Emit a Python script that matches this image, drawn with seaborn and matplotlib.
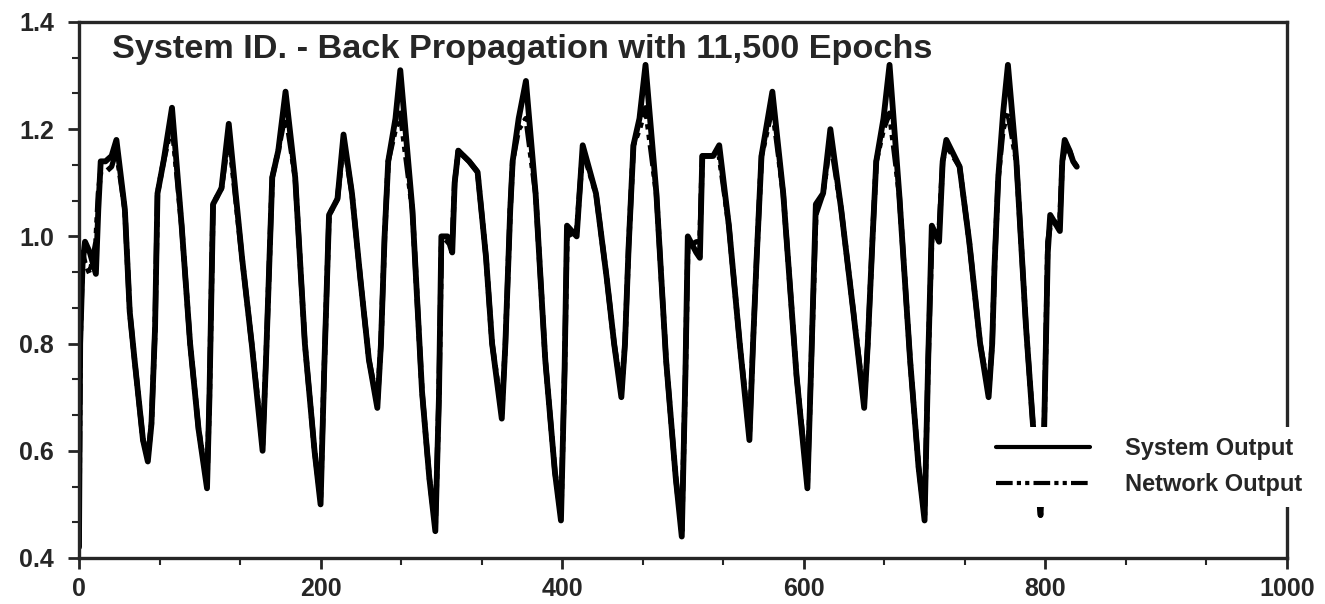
import numpy as np
import pandas as pd
import matplotlib
matplotlib.use('Agg')
import matplotlib.pyplot as plt
from matplotlib.ticker import MultipleLocator, FormatStrFormatter
import seaborn as sns

# values (step index vs output)
step = [0, 1, 3, 5, 9, 14, 16, 18, 22, 27, 31, 38, 42, 46, 53, 57, 60, 63, 65, 70,
        77, 85, 92, 99, 106, 108, 111, 118, 124, 135, 143, 152, 155, 160, 165, 171, 179, 187, 195, 200,
        203, 207, 214, 219, 226, 233, 240, 247, 250, 253, 256, 262, 266, 276, 284, 290, 295, 298, 300, 305,
        309, 311, 314, 323, 330, 337, 342, 350, 353, 357, 359, 364, 370, 378, 386, 394, 399, 402, 404, 412,
        417, 428, 437, 443, 449, 452, 455, 459, 464, 469, 478, 486, 494, 499, 502, 504, 511, 514, 516, 525,
        530, 538, 547, 555, 558, 561, 565, 574, 583, 594, 603, 606, 610, 616, 622, 631, 641, 650, 653, 657,
        660, 666, 671, 679, 688, 695, 700, 703, 706, 712, 715, 718, 729, 737, 746, 753, 756, 758, 761, 765,
        769, 776, 784, 790, 796, 799, 802, 804, 812, 814, 816, 820, 823, 826]

system_out = [0.42, 0.80, 0.95, 0.99, 0.97, 0.93, 1.05, 1.14, 1.14, 1.15, 1.18, 1.05, 0.86, 0.77, 0.62, 0.58, 0.65, 0.83, 1.08, 1.14,
              1.24, 1.02, 0.80, 0.64, 0.53, 0.70, 1.06, 1.09, 1.21, 0.96, 0.80, 0.60, 0.78, 1.11, 1.16, 1.27, 1.11, 0.80, 0.60, 0.50,
              0.75, 1.04, 1.07, 1.19, 1.08, 0.92, 0.77, 0.68, 0.80, 1.00, 1.14, 1.22, 1.31, 1.05, 0.71, 0.55, 0.45, 0.70, 1.00, 1.00,
              0.97, 1.10, 1.16, 1.14, 1.12, 0.96, 0.80, 0.66, 0.80, 1.05, 1.14, 1.22, 1.29, 1.08, 0.77, 0.56, 0.47, 0.75, 1.02, 1.00,
              1.17, 1.08, 0.92, 0.80, 0.70, 0.80, 0.98, 1.17, 1.22, 1.32, 1.08, 0.77, 0.55, 0.44, 0.74, 1.00, 0.97, 0.96, 1.15, 1.15,
              1.17, 1.02, 0.80, 0.62, 0.80, 0.96, 1.15, 1.27, 1.08, 0.74, 0.53, 0.75, 1.06, 1.08, 1.20, 1.05, 0.86, 0.68, 0.80, 1.00,
              1.14, 1.22, 1.32, 1.08, 0.77, 0.57, 0.47, 0.77, 1.02, 0.99, 1.14, 1.18, 1.13, 0.99, 0.80, 0.70, 0.80, 0.95, 1.11, 1.23,
              1.32, 1.14, 0.83, 0.64, 0.48, 0.64, 0.97, 1.04, 1.01, 1.14, 1.18, 1.16, 1.14, 1.13]

network_out = [0.42, 0.80, 0.97, 0.95, 0.93, 0.99, 1.08, 1.12, 1.12, 1.13, 1.16, 1.05, 0.86, 0.77, 0.62, 0.59, 0.65, 0.83, 1.08, 1.14,
               1.21, 1.02, 0.80, 0.64, 0.54, 0.70, 1.06, 1.09, 1.19, 0.96, 0.80, 0.61, 0.78, 1.11, 1.16, 1.23, 1.11, 0.80, 0.60, 0.51,
               0.75, 1.04, 1.07, 1.18, 1.08, 0.92, 0.77, 0.69, 0.80, 1.00, 1.14, 1.20, 1.23, 1.05, 0.71, 0.55, 0.46, 0.70, 0.98, 0.99,
               0.99, 1.10, 1.16, 1.14, 1.12, 0.96, 0.80, 0.67, 0.80, 1.05, 1.14, 1.20, 1.22, 1.08, 0.77, 0.56, 0.48, 0.75, 1.00, 1.01,
               1.16, 1.08, 0.92, 0.80, 0.71, 0.80, 0.98, 1.17, 1.20, 1.24, 1.08, 0.77, 0.55, 0.45, 0.74, 0.98, 0.99, 0.99, 1.15, 1.15,
               1.15, 1.02, 0.80, 0.63, 0.80, 0.96, 1.15, 1.24, 1.08, 0.74, 0.54, 0.75, 1.04, 1.08, 1.18, 1.05, 0.86, 0.69, 0.80, 1.00,
               1.14, 1.20, 1.23, 1.08, 0.77, 0.57, 0.48, 0.77, 1.00, 1.01, 1.14, 1.17, 1.13, 0.99, 0.80, 0.71, 0.80, 0.95, 1.11, 1.20,
               1.23, 1.14, 0.83, 0.64, 0.48, 0.64, 0.99, 1.02, 1.03, 1.14, 1.16, 1.16, 1.14, 1.13]

title = 'System ID. - Back Propagation with 11,500 Epochs'
y_ticks = [0.4, 0.6, 0.8, 1.0, 1.2, 1.4]
x_ticks = [0, 200, 400, 600, 800, 1000]

df = pd.DataFrame({'step': step, 'System Output': system_out, 'Network Output': network_out})

sns.set_style('ticks')
plt.rcParams['font.family'] = ['Liberation Sans', 'DejaVu Sans']
plt.rcParams['font.weight'] = 'bold'

fig = plt.figure(figsize=(13.25, 6.04), dpi=100)
ax = fig.add_axes([0.0596, 0.0762, 0.9117, 0.8874])

sns.lineplot(data=df, x='step', y='System Output', ax=ax, color='black', lw=4.2,
             sort=False, estimator=None, label='System Output')
sns.lineplot(data=df, x='step', y='Network Output', ax=ax, color='black', lw=3.8,
             linestyle=(0, (4, 1.0, 1, 1.0, 1, 1.0)), sort=False, estimator=None, label='Network Output')

ax.set_xlim(0, 1000)
ax.set_ylim(0.4, 1.4)
ax.set_xticks(x_ticks)
ax.set_yticks(y_ticks)
ax.xaxis.set_minor_locator(MultipleLocator(200 / 3))
ax.yaxis.set_minor_locator(MultipleLocator(0.2 / 3))
ax.yaxis.set_major_formatter(FormatStrFormatter('%.1f'))
ax.tick_params(which='major', direction='out', length=8, width=2, labelsize=18)
ax.tick_params(which='minor', direction='out', length=5, width=1.5)
ax.tick_params(axis='x', pad=6)
ax.tick_params(axis='y', pad=10)
for s in ax.spines.values():
    s.set_linewidth(2.4)
    s.set_visible(True)
ax.set_xlabel('')
ax.set_ylabel('')

ax.text(0.027, 0.978, title, transform=ax.transAxes, va='top', ha='left',
        fontsize=24.7, fontweight='bold')

leg = ax.legend(loc='upper left', bbox_to_anchor=(0.75, 0.245), borderaxespad=0,
                frameon=True, facecolor='white', edgecolor='none', framealpha=1,
                fontsize=17, handlelength=4.0, handletextpad=1.5, labelspacing=0.55,
                borderpad=0.45)
leg.get_frame().set_linewidth(0)
for line in leg.get_lines():
    line.set_linewidth(3)
leg.set_zorder(5)

fig.savefig('out.png', dpi=100)
plt.close(fig)
